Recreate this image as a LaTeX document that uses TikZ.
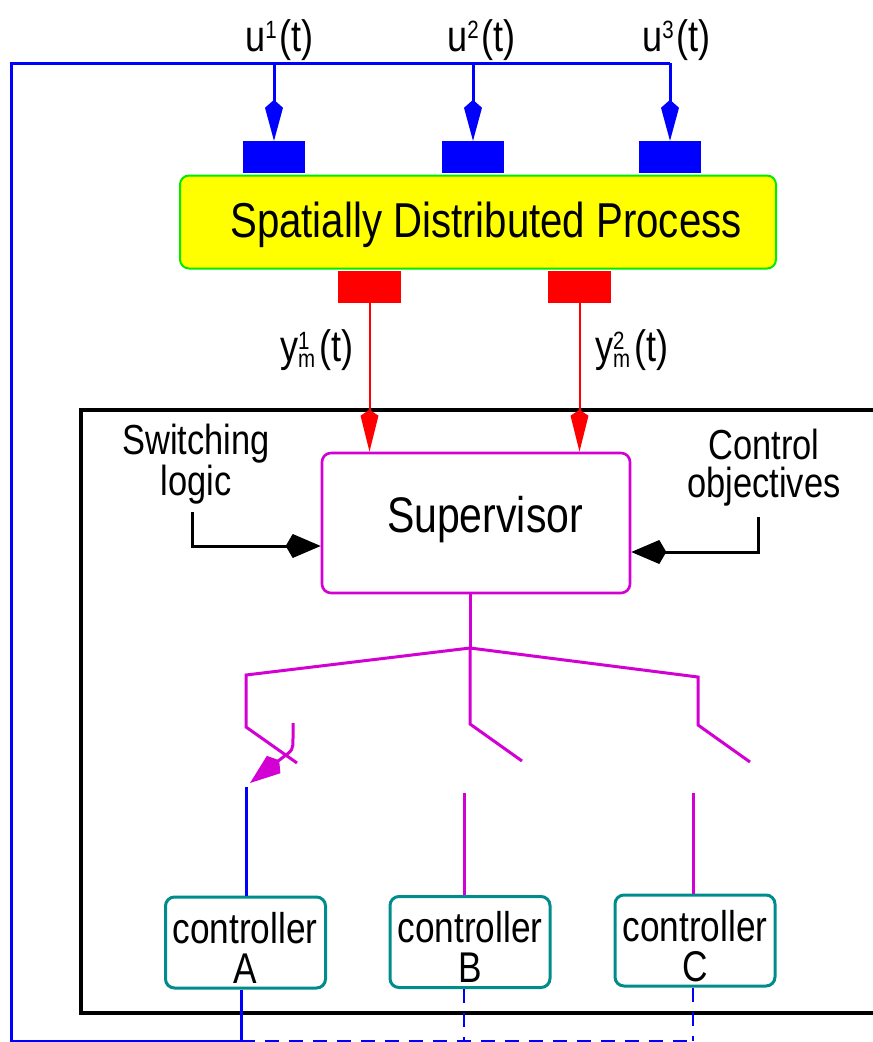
\documentclass[tikz,border=0pt]{standalone}
\usepackage{fontspec}
\setmainfont{Liberation Sans}[FakeStretch=0.82]
\usetikzlibrary{arrows.meta}

\definecolor{sigblue}{RGB}{0,0,255}
\definecolor{sigred}{RGB}{255,0,0}
\definecolor{supmag}{RGB}{210,0,210}
\definecolor{ctlteal}{RGB}{0,140,140}
\definecolor{procfill}{RGB}{255,255,0}
\definecolor{procedge}{RGB}{0,235,0}

\newcommand\fsProc{\fontsize{49}{58}\selectfont}
\newcommand\fsSup{\fontsize{50}{58}\selectfont}
\newcommand\fsSide{\fontsize{42}{38}\selectfont}
\newcommand\fsCtl{\fontsize{43}{40}\selectfont}
\newcommand\fsSig{\fontsize{44}{48}\selectfont}
\newcommand\fsIdx{\fontsize{25}{25}\selectfont}
% u with a raised channel index
\newcommand\uidx[1]{u\raisebox{13pt}{\fsIdx#1}\kern3pt(t)}
% y with a stacked index and subscript m
\newcommand\ymidx[1]{y\rlap{\raisebox{12pt}{\fsIdx#1}}\raisebox{-6pt}{\fsIdx m}\kern4pt(t)}

\begin{document}
\begin{tikzpicture}[x=1pt,y=-1pt,
  txt/.style={inner sep=0pt,anchor=base,align=center},
  sig/.style={inner sep=0pt,anchor=base west,font=\fsSig},
  procbox/.style={draw=procedge,fill=procfill,line width=2pt,rounded corners=9pt,
    minimum width=596pt,minimum height=93pt,inner sep=0pt},
  inport/.style={fill=sigblue,minimum width=62pt,minimum height=32pt,inner sep=0pt},
  outport/.style={fill=sigred,minimum width=63pt,minimum height=32pt,inner sep=0pt},
  supbox/.style={draw=supmag,line width=2.6pt,rounded corners=9pt,
    minimum width=308pt,minimum height=140pt,inner sep=0pt},
  ctlbox/.style={draw=ctlteal,line width=3pt,rounded corners=9pt,
    minimum width=160pt,minimum height=91pt,inner sep=0pt},
  bluewire/.style={draw=sigblue,line width=3pt},
  bluedash/.style={draw=sigblue,line width=2.4pt,dash pattern=on 14pt off 10pt},
  redwire/.style={draw=sigred,line width=2pt},
  magwire/.style={draw=supmag,line width=3pt},
  cmdwire/.style={draw=black,line width=3pt},
  frameline/.style={draw=black,line width=3.2pt},
  inkite/.style={-{Kite[length=41pt,width=18pt,inset=8pt]}},
  outkite/.style={-{Kite[length=42pt,width=18pt,inset=6pt]}},
  cmdkite/.style={-{Kite[length=35pt,width=24pt,inset=7pt]}},
  swkite/.style={-{Kite[length=37pt,width=22pt,inset=7pt]}},
]
\useasboundingbox (0,0) rectangle (873,1042);

% enclosure of the supervisory control system
\draw[frameline] (873,410) -- (81,410) -- (81,1013) -- (873,1013);

% process with its actuator and sensor ports
\node[procbox] (proc) at (478,222) {};
\node[txt,font=\fsProc] (proclabel) at (486,237) {Spatially Distributed Process};
\node[inport] (in1) at (274,157) {};
\node[inport] (in2) at (473,157) {};
\node[inport] (in3) at (670,157) {};
\node[outport] (out1) at (369.5,287) {};
\node[outport] (out2) at (579.5,287) {};

% supervisor and controllers
\node[supbox] (sup) at (476,523) {};
\node[txt,font=\fsSup] (suplabel) at (485,532) {Supervisor};
\node[ctlbox] (ctlA) at (245.5,942.5) {};
\node[ctlbox] (ctlB) at (470,942) {};
\node[ctlbox] (ctlC) at (695,940.5) {};
\node[txt,font=\fsCtl] (ctlAlabel) at (245,983) {controller\\A};
\node[txt,font=\fsCtl] (ctlBlabel) at (470,982) {controller\\B};
\node[txt,font=\fsCtl] (ctlClabel) at (695,981) {controller\\C};

% signal labels
\node[sig] (u1) at (245,51) {\uidx{1}};
\node[sig] (u2) at (447,51) {\uidx{2}};
\node[sig] (u3) at (642,51) {\uidx{3}};
\node[sig] (y1) at (280,361) {\ymidx{1}};
\node[sig] (y2) at (595,361) {\ymidx{2}};
\node[txt,font=\fsSide] (swlabel) at (196,495) {Switching\\logic};
\node[txt,font=\fsSide] (objlabel) at (764,497) {Control\\objectives};

% control loop back to the actuators
\coordinate (lt) at (11,63);
\coordinate (lb) at (11,1041);
\coordinate (aout) at (241,1041);
\draw[bluewire] (in3.north |- lt) -- (lt) -- (lb) -- (aout) -- (aout |- ctlA.south);
\foreach \p in {in1,in2,in3}
  \draw[bluewire,inkite] (\p.north |- lt) -- (\p.north);

% measurements to the supervisor
\draw[redwire,outkite] (out1.south) -- (out1.south |- sup.north);
\draw[redwire,outkite] (out2.south) -- (out2.south |- sup.north);

% external inputs of the supervisor
\coordinate (sw0) at (192,512);
\coordinate (sw1) at (192,546);
\draw[cmdwire,cmdkite] (sw0) -- (sw1) -- (sw1 -| sup.west);
\coordinate (co0) at (758,517);
\coordinate (co1) at (758,552);
\draw[cmdwire,cmdkite] (co0) -- (co1) -- (co1 -| sup.east);

% switch tree
\coordinate (j) at (470,648);
\coordinate (kA) at (246,675);
\coordinate (kC) at (698,677);
\coordinate (pA) at (246,727);
\coordinate (pB) at (470,724);
\coordinate (pC) at (698,725);
\coordinate (eA) at (297,763);
\coordinate (eB) at (522,761);
\coordinate (eC) at (750,762);
\draw[magwire] (j |- sup.south) -- (j);
\draw[magwire] (j) -- (kA) -- (pA) -- (eA);
\draw[magwire] (j) -- (pB) -- (eB);
\draw[magwire] (j) -- (kC) -- (pC) -- (eC);
\draw[magwire,swkite] (293,723) -- (293,738) .. controls (293,750) .. (282,758) -- (250,783);

% switch contacts to the controllers
\coordinate (sA) at (246,787);
\coordinate (sB) at (464,793);
\coordinate (sC) at (693,793);
\draw[bluewire] (sA) -- (sA |- ctlA.north);
\draw[magwire] (sB) -- (sB |- ctlB.north);
\draw[magwire] (sC) -- (sC |- ctlC.north);

% standby controller outputs
\draw[bluedash] (sB |- ctlB.south) -- (sB |- lb);
\draw[bluedash] (sC |- ctlC.south) -- (sC |- lb);
\draw[bluedash] (aout) -- (sC |- lb);
\end{tikzpicture}
\end{document}
